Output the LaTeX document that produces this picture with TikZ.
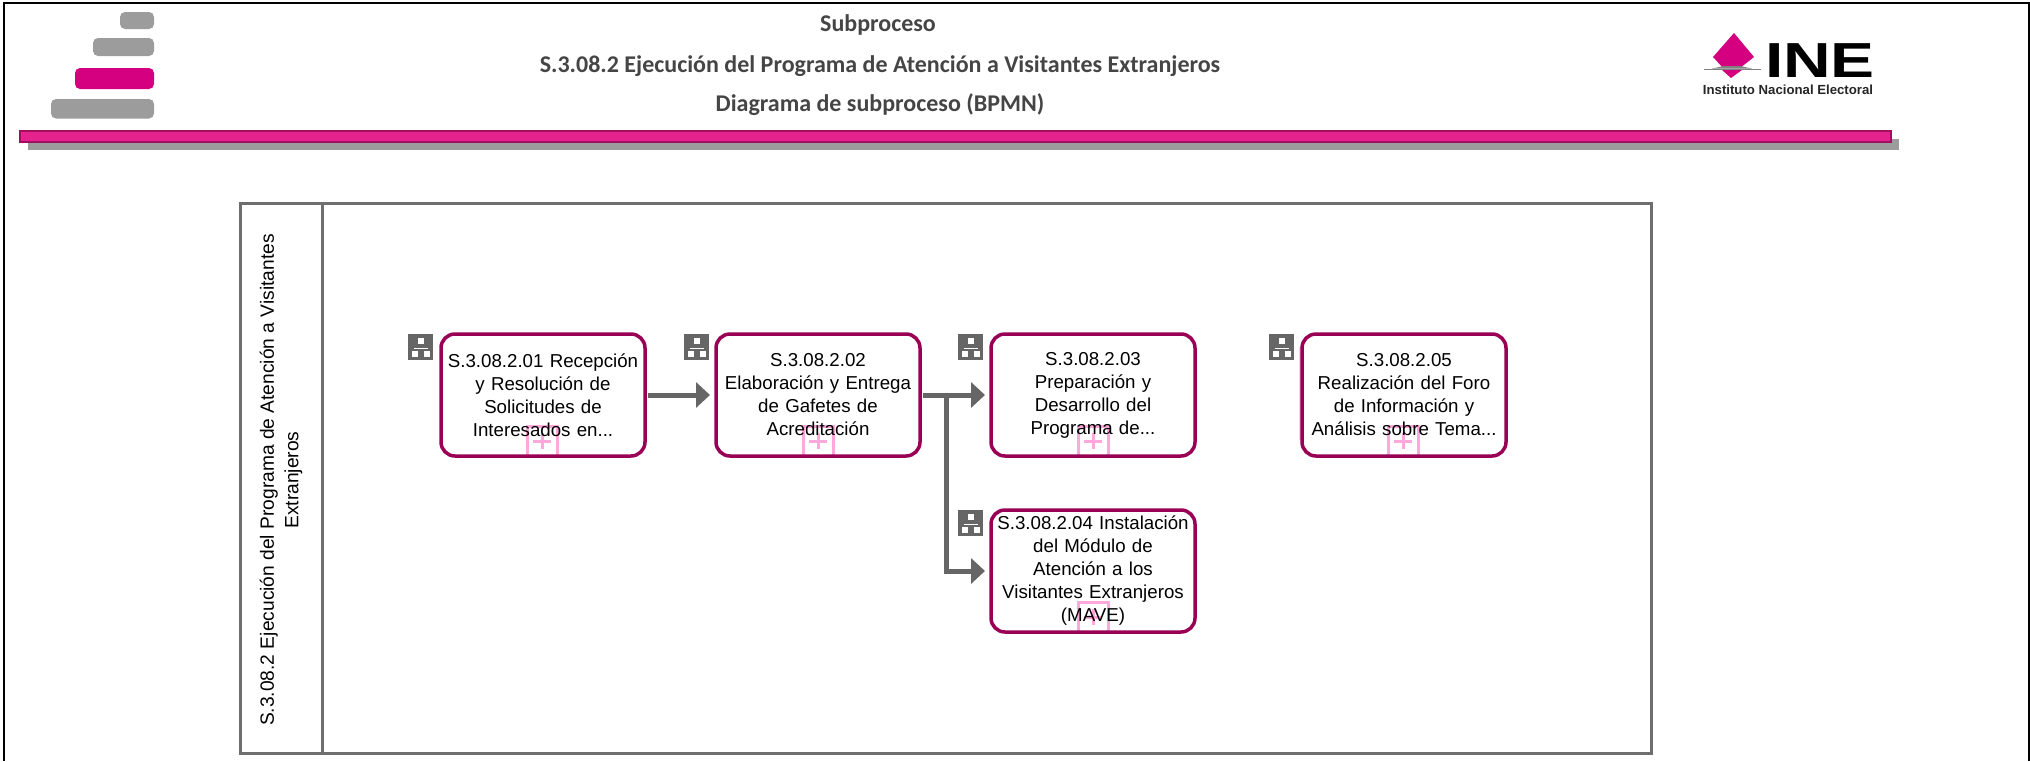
\documentclass[tikz,border=0pt]{standalone}
\usepackage{fontspec}
\setmainfont{Liberation Sans}
\newfontfamily\titlefont{Carlito}
\usetikzlibrary{arrows.meta,calc}
\definecolor{boxline}{HTML}{990055}
\definecolor{poolline}{HTML}{6E6E6E}
\definecolor{flowline}{HTML}{666666}
\definecolor{markpink}{HTML}{FFA8DC}
\definecolor{stepgray}{HTML}{9C9C9C}
\definecolor{magbar}{HTML}{E6228F}
\definecolor{magdark}{HTML}{A00F60}
\definecolor{magstep}{HTML}{D5007F}
\definecolor{titlegray}{HTML}{454545}
\tikzset{
  x=0.5pt,y=-0.5pt,
  taskbox/.style={draw=boxline,line width=1.75pt,rounded corners=7pt,minimum width=102pt,minimum height=61pt,outer sep=0pt,
    inner sep=0pt,align=center,text width=102pt,font=\fontsize{9.35}{11.5}\selectfont,anchor=north west,text=black},
  marker/.style={draw=markpink,line width=1.5pt,minimum width=15pt,minimum height=15pt,inner sep=0pt,outer sep=0pt,anchor=south},
  iconbox/.style={fill=flowline,minimum width=12.5pt,minimum height=13pt,inner sep=0pt,outer sep=0pt,anchor=north west},
  stepbar/.style={rounded corners=2.5pt,inner sep=0pt,outer sep=0pt,anchor=north west},
  flow/.style={draw=flowline,line width=2.5pt,shorten >=3pt,-{Triangle[length=7pt,width=12.5pt]}},
  titletext/.style={font=\titlefont\bfseries\fontsize{12}{14}\selectfont,text=titlegray,inner sep=0pt},
}
\newcommand{\stepnode}[6]{\node[stepbar,fill=#6,minimum width=#4pt,minimum height=#5pt] (#1) at (#2,#3) {};}
\newcommand{\hierarchy}[3]{%
  \node[iconbox] (#1) at (#2,#3) {};
  \fill[white] ($(#1.center)+(-3,-9)$) rectangle ($(#1.center)+(3,-3)$);
  \fill[white] ($(#1.center)+(-9,4)$) rectangle ($(#1.center)+(-3,10)$);
  \fill[white] ($(#1.center)+(3,4)$) rectangle ($(#1.center)+(9,10)$);
  \fill[white] ($(#1.center)+(-7,0.5)$) rectangle ($(#1.center)+(7,2)$);
}
\newcommand{\expand}[3]{%
  \node[marker] (#1) at (#2,#3) {};
  \draw[markpink,line width=1.5pt] ($(#1.center)+(-9,0)$) -- ($(#1.center)+(9,0)$)
    ($(#1.center)+(0,-8)$) -- ($(#1.center)+(0,8)$);
}
\begin{document}
\begin{tikzpicture}
\useasboundingbox (0,0) rectangle (2030,761);
\fill[white] (0,0) rectangle (2030,761);
% frame
\draw[black,line width=1.25pt] (4,761) -- (4,3) -- (2029,3) -- (2029,761);
% staircase
\stepnode{s1}{120}{12}{17}{8.5}{stepgray}
\stepnode{s2}{93}{38}{30.5}{9}{stepgray}
\stepnode{s3}{75}{68}{39.5}{10.5}{magstep}
\stepnode{s4}{51}{99}{51.5}{9.75}{stepgray}
% titles
\node[titletext] (t1) at (878,25) {Subproceso};
\node[titletext] (t2) at (880,66) {S.3.08.2 Ejecución del Programa de Atención a Visitantes Extranjeros};
\node[titletext] (t3) at (880,105) {Diagrama de subproceso (BPMN)};
% logo
\fill[magstep] (1734,33) -- (1754,57) -- (1740,68) -- (1723,68) -- (1713,57) -- cycle;
\fill[magstep] (1722,70) -- (1742,70) -- (1731,78) -- cycle;
\draw[gray,line width=0.9pt] (1704,69.5) -- (1761,69.5);
\fill[gray] (1712,68.5) -- (1724,66) -- (1740,66) -- (1752,68.5) -- cycle;
\node[inner sep=0pt,anchor=center,font=\bfseries\fontsize{24.6}{25}\selectfont] (ine) at (1820,61) {\scalebox{1.34}[1]{INE}};
\node[inner sep=0pt,font=\bfseries\fontsize{6.6}{8}\selectfont,text=black!85] (ine2) at (1788,90) {Instituto Nacional Electoral};
% bar
\fill[stepgray] (28,139) rectangle (1899,150);
\draw[draw=magdark,fill=magbar,line width=0.8pt] (20,131) rectangle (1891,142);
% pool
\node[draw=poolline,line width=1.5pt,minimum width=705.5pt,minimum height=275pt,inner sep=0pt,outer sep=0pt,anchor=north west] (pool) at (240,203) {};
\draw[poolline,line width=1.5pt] (322,203) -- (322,753);
\node[rotate=90,align=center,inner sep=0pt,font=\fontsize{9.6}{12.3}\selectfont] (pooltitle) at (281,480)
  {S.3.08.2 Ejecución del Programa de Atención a Visitantes\\Extranjeros};
% sub-process markers
\expand{m1}{542}{456}
\expand{m2}{818}{456}
\expand{m3}{1093}{456}
\expand{m4}{1093}{632}
\expand{m5}{1403}{456}
\draw[markpink!60,line width=0.6pt] (1300,347) -- (1300,440);
% tasks
\node[taskbox] (b1) at (441,334) {S.3.08.2.01 Recepción\\y Resolución de\\Solicitudes de\\Interesados en...};
\node[taskbox] (b2) at (716,334) {S.3.08.2.02\\Elaboración y Entrega\\de Gafetes de\\Acreditación};
\node[taskbox] (b3) at (991,334) {S.3.08.2.03\\Preparación y\\Desarrollo del\\Programa de...};
\node[taskbox] (b4) at (991,510) {S.3.08.2.04 Instalación\\del Módulo de\\Atención a los\\Visitantes Extranjeros\\(MAVE)};
\node[taskbox] (b5) at (1302,334) {S.3.08.2.05\\Realización del Foro\\de Información y\\Análisis sobre Tema...};
% icons
\hierarchy{i1}{408}{334}
\hierarchy{i2}{684}{334}
\hierarchy{i3}{958}{334}
\hierarchy{i4}{958}{510}
\hierarchy{i5}{1269}{334}
% connectors
\draw[flow,shorten <=1.5pt] (b1.east) -- (b2.west);
\draw[flow,shorten <=1.5pt] (b2.east) -- (b3.west);
\coordinate (junction) at ($(b2.east)+(26,0)$);
\draw[flow] (junction) |- (b4.west);
\end{tikzpicture}
\end{document}
